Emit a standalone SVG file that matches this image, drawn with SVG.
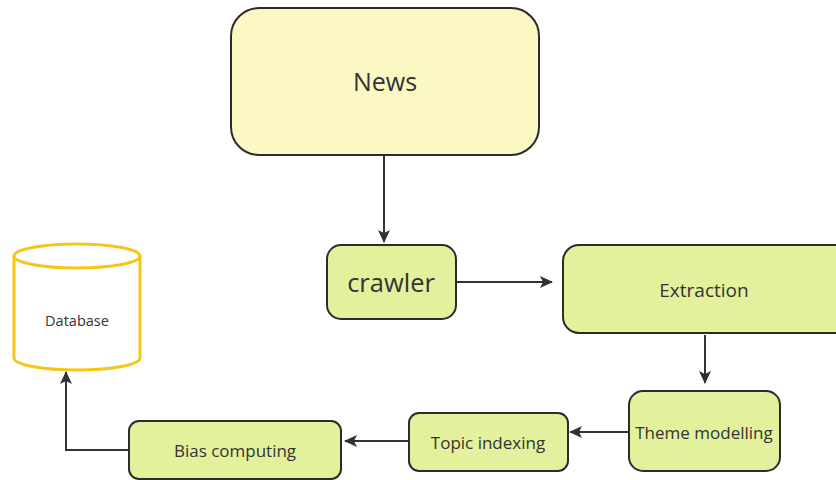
<svg xmlns="http://www.w3.org/2000/svg" width="836" height="480" viewBox="0 0 836 480">
<style>
.box{stroke:#2b2b2b;stroke-width:2}
.y{fill:#fcf8c4}
.g{fill:#e3f19c}
.t{font-family:"Open Sans","Noto Sans",sans-serif;fill:#333;text-anchor:middle;dominant-baseline:central}
.c{fill:none;stroke:#333;stroke-width:2}
</style>
<defs>
<marker id="ah" markerWidth="14" markerHeight="14" refX="12" refY="7" orient="auto" markerUnits="userSpaceOnUse">
<path d="M0,1 L13,7 L0,13 L3,7 Z" fill="#333"/>
</marker>
</defs>
<rect width="836" height="480" fill="#fff"/>
<g id="connectors">
<path class="c" d="M384,156 V242" marker-end="url(#ah)"/>
<path class="c" d="M457,282 H552" marker-end="url(#ah)"/>
<path class="c" d="M705,335 V383" marker-end="url(#ah)"/>
<path class="c" d="M628,432 H570" marker-end="url(#ah)"/>
<path class="c" d="M408,441 H345" marker-end="url(#ah)"/>
<path class="c" d="M129,450 H66 V372" marker-end="url(#ah)"/>
</g>
<g id="news"><rect class="box y" x="231" y="8" width="308" height="147" rx="28"/><text class="t" x="385" y="81" font-size="25">News</text></g>
<g id="crawler"><rect class="box g" x="327" y="245" width="129" height="74" rx="14"/><text class="t" x="391" y="282" font-size="25.5">crawler</text></g>
<g id="extraction"><rect class="box g" x="563" y="245" width="290" height="88" rx="16"/><text class="t" x="704" y="290" font-size="19">Extraction</text></g>
<g id="theme"><rect class="box g" x="629" y="391" width="151" height="80" rx="14"/><text class="t" x="704" y="432" font-size="17">Theme modelling</text></g>
<g id="topic"><rect class="box g" x="409" y="413" width="159" height="58" rx="10"/><text class="t" x="488" y="442" font-size="17">Topic indexing</text></g>
<g id="bias"><rect class="box g" x="129" y="421" width="212" height="58" rx="10"/><text class="t" x="235" y="450" font-size="17">Bias computing</text></g>
<g id="database">
<path d="M14,256 V358 A63,12 0 0 0 140,358 V256" fill="#fff" stroke="#f5c518" stroke-width="3"/>
<ellipse cx="77" cy="256" rx="63" ry="12" fill="#fff" stroke="#f5c518" stroke-width="3"/>
<text class="t" x="77" y="320" font-size="14.5">Database</text>
</g>
</svg>
